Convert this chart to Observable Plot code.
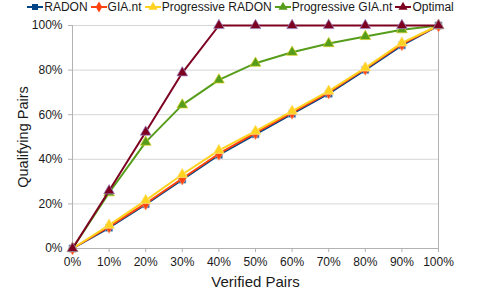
<!DOCTYPE html>
<html>
<head>
<meta charset="utf-8">
<script src="https://cdn.jsdelivr.net/npm/d3@7"></script>
<script src="https://cdn.jsdelivr.net/npm/@observablehq/plot@0.6"></script>
<style>
  html, body { margin: 0; padding: 0; background: #fff; }
  body { width: 482px; height: 297px; overflow: hidden; font-family: "Liberation Sans", Arial, sans-serif; }
  #legend { height: 14px; display: flex; justify-content: center; align-items: center; font-size: 12px; color: #1a1a1a; padding-left: 0px; }
  .item { display: flex; align-items: center; margin-right: 2px; white-space: nowrap; }
  .item svg { display: block; margin-right: 0px; }
</style>
</head>
<body>
<div id="legend"></div>
<div id="chart"></div>
<script>
const xValues = [0, 10, 20, 30, 40, 50, 60, 70, 80, 90, 100];
const yTicks = [0, 20, 40, 60, 80, 100];
const seriesNames = ["RADON", "GIA.nt", "Progressive RADON", "Progressive GIA.nt", "Optimal"];
const radon = [0, 9.3, 19.8, 30.9, 42, 51.2, 60.4, 69.4, 80.1, 91.1, 100];
const gianT = [0, 9.8, 20.2, 31.4, 42.5, 51.8, 60.9, 70, 80.6, 91.6, 100];
const progressiveRadon = [0, 10.5, 21.6, 33.2, 44, 52.6, 61.6, 70.6, 81, 92.2, 100];
const progressiveGiant = [0, 25, 47.7, 64.4, 75.6, 83.1, 88, 91.9, 95.1, 98.1, 100];
const optimal = [0, 25.9, 52.2, 78.8, 100, 100, 100, 100, 100, 100, 100];
const seriesValues = [radon, gianT, progressiveRadon, progressiveGiant, optimal];
const colors = ["#004586", "#ff420e", "#ffd320", "#579d1c", "#7e0021"];
const outlines = ["#8fb0d8", "#ff9a70", "#ffe68a", "#d8d020", "#9a8ac8"];
const symbols = ["square", "diamond", "triangle", "triangle", "triangle"];

const data = seriesNames.flatMap((name, i) =>
  xValues.map((x, j) => ({series: name, x, y: seriesValues[i][j]}))
);

// Legend
const legend = d3.select("#legend");
seriesNames.forEach((name, i) => {
  const item = legend.append("div").attr("class", "item");
  const s = item.append("svg").attr("width", 18).attr("height", 12);
  s.append("line").attr("x1", 1).attr("x2", 17).attr("y1", 6).attr("y2", 6)
    .attr("stroke", colors[i]).attr("stroke-width", 2);
  const sym = {square: d3.symbolSquare, diamond: d3.symbolDiamond, triangle: d3.symbolTriangle}[symbols[i]];
  s.append("path").attr("d", d3.symbol(sym, 36)()).attr("transform", "translate(9,6)")
    .attr("fill", colors[i]);
  item.append("span").text(name);
});

const marks = [
  Plot.gridY(yTicks, {stroke: "#d6d6d6", strokeOpacity: 1}),
  Plot.ruleX([0, 100], {stroke: "#b3b3b3"}),
  Plot.ruleY([0], {stroke: "#b3b3b3"}),
  Plot.axisX({ticks: xValues, tickFormat: d => d + "%", tickSize: 4, tickPadding: 5, stroke: "#b3b3b3", fill: "#1a1a1a", fontSize: 12, label: null}),
  Plot.axisX({ticks: [], label: "Verified Pairs", labelAnchor: "center", labelArrow: "none", labelOffset: 38, fontSize: 15, fill: "#1a1a1a", tickSize: 0}),
  Plot.axisY({ticks: yTicks, tickFormat: d => d + "%", tickSize: 4, tickPadding: 6, stroke: "#b3b3b3", fill: "#1a1a1a", fontSize: 12, label: null}),
  Plot.axisY({ticks: [], label: "Qualifying Pairs", labelAnchor: "center", labelArrow: "none", labelOffset: 55, fontSize: 14.5, fill: "#1a1a1a", tickSize: 0})
];
seriesNames.forEach((name, i) => {
  const d = data.filter(r => r.series === name);
  marks.push(Plot.line(d, {x: "x", y: "y", stroke: colors[i], strokeWidth: 2}));
  marks.push(Plot.dot(d, {x: "x", y: "y", symbol: () => symbols[i], fill: colors[i], stroke: outlines[i], strokeWidth: 0.7, r: 4}));
});

const chart = Plot.plot({
  width: 482,
  height: 283,
  marginLeft: 72,
  marginRight: 44,
  marginTop: 11,
  marginBottom: 49,
  style: {fontFamily: "'Liberation Sans', Arial, sans-serif", background: "#fff", overflow: "visible"},
  x: {domain: [0, 100]},
  y: {domain: [0, 100]},
  symbol: {type: "identity"},
  marks
});
document.getElementById("chart").appendChild(chart);
</script>
</body>
</html>
